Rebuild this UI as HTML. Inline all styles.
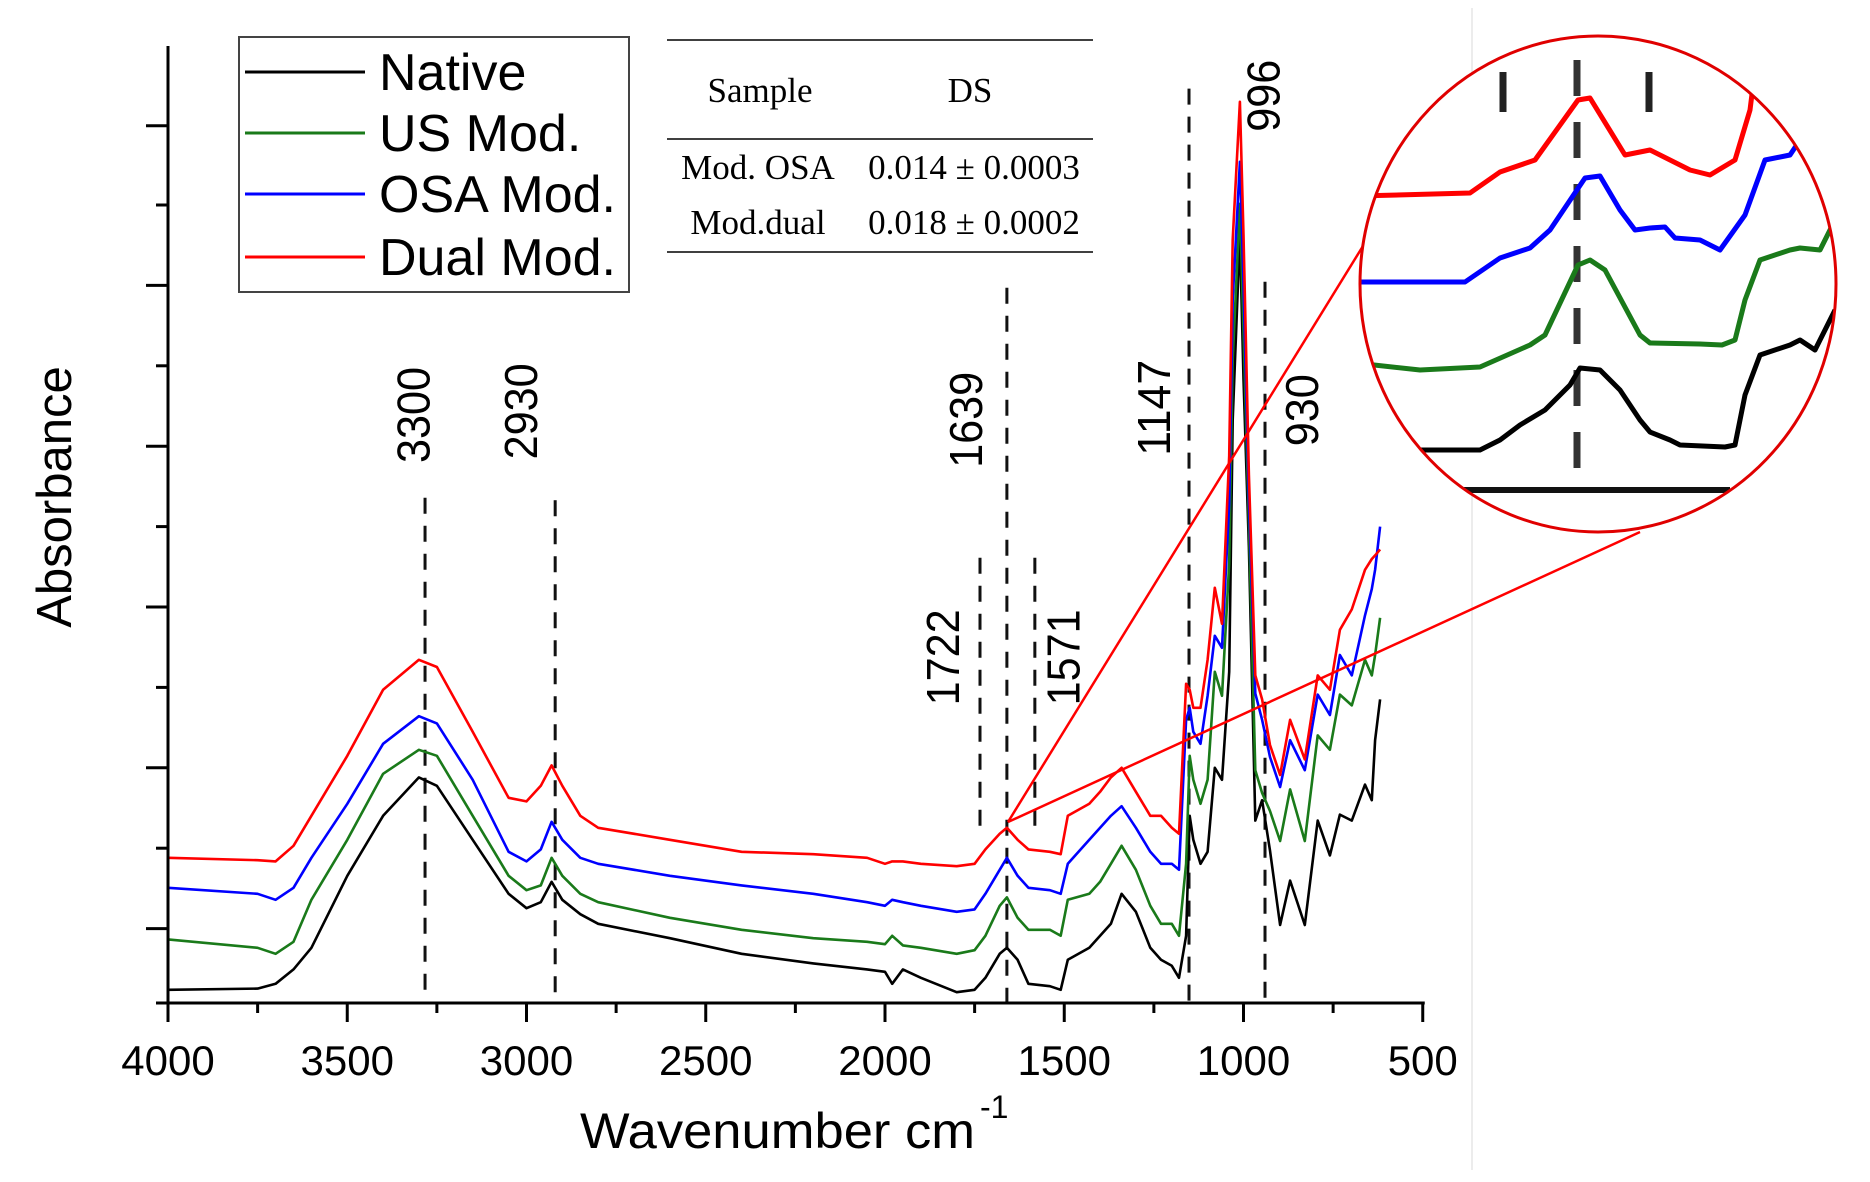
<!DOCTYPE html>
<html><head><meta charset="utf-8"><style>
html,body{margin:0;padding:0;background:#fff;}
svg{display:block;font-family:"Liberation Sans",Arial,sans-serif;}
</style></head><body>
<svg id="chart" width="1870" height="1182" viewBox="0 0 1870 1182">
<rect x="0" y="0" width="1870" height="1182" fill="#fff"/>
<line x1="1472" y1="8" x2="1472" y2="1170" stroke="#e6e6e6" stroke-width="1.5"/>
<g id="refLines"></g>
<g id="series"></g>
<g id="axes"></g>
<g id="labels"></g>
<g>
  <rect x="239" y="37" width="390" height="255" fill="#fff" stroke="#444" stroke-width="2"/>
  <line x1="245" y1="72" x2="365" y2="72" stroke="#000" stroke-width="3"/>
  <text x="379" y="90" font-size="52">Native</text>
  <line x1="245" y1="133" x2="365" y2="133" stroke="#1a7a1a" stroke-width="3"/>
  <text x="379" y="151" font-size="52">US Mod.</text>
  <line x1="245" y1="194" x2="365" y2="194" stroke="#0000ff" stroke-width="3"/>
  <text x="379" y="212" font-size="52">OSA Mod.</text>
  <line x1="245" y1="257" x2="365" y2="257" stroke="#ff0000" stroke-width="3"/>
  <text x="379" y="275" font-size="52">Dual Mod.</text>
</g>
<g font-family="'Liberation Serif','Times New Roman',serif" font-size="35">
  <line x1="667" y1="40" x2="1093" y2="40" stroke="#000" stroke-width="1.5"/>
  <line x1="667" y1="139" x2="1093" y2="139" stroke="#000" stroke-width="1.5"/>
  <line x1="667" y1="252" x2="1093" y2="252" stroke="#000" stroke-width="1.5"/>
  <text x="760" y="102" text-anchor="middle">Sample</text>
  <text x="970" y="102" text-anchor="middle">DS</text>
  <text x="758" y="179" text-anchor="middle">Mod. OSA</text>
  <text x="974" y="179" text-anchor="middle">0.014 ± 0.0003</text>
  <text x="758" y="234" text-anchor="middle">Mod.dual</text>
  <text x="974" y="234" text-anchor="middle">0.018 ± 0.0002</text>
</g>
<g id="inset"></g>
<text x="58" y="497" font-size="49" text-anchor="middle" transform="rotate(-90 58 497)" dominant-baseline="middle">Absorbance</text>
<text x="580" y="1148" font-size="50" textLength="395" lengthAdjust="spacingAndGlyphs">Wavenumber cm</text>
<text x="980" y="1118" font-size="32">-1</text>
</svg>
<script>
const NS='http://www.w3.org/2000/svg';
const wavenumbers=[4000,3750,3700,3650,3600,3500,3400,3300,3250,3150,3050,3000,2960,2930,2900,2850,2800,2600,2400,2200,2050,2000,1980,1950,1900,1800,1750,1720,1680,1660,1630,1600,1540,1510,1490,1430,1400,1370,1340,1300,1260,1230,1200,1180,1160,1150,1140,1120,1100,1080,1060,1040,1030,1010,1000,985,967,948,926,898,870,829,793,759,731,698,661,642,633,619];
const nativeVals=[11,12,16,28,46,106,156,188,181,136,91,79,84,101,86,74,66,54,41,33,28,26,16,28,21,9,11,21,41,46,36,16,14,11,36,46,56,66,91,76,46,36,31,21,56,156,136,116,126,196,186,276,486,641,520,380,152,169,127,65,102,65,152,123,157,152,182,169,219,253];
const usVals=[53,46,41,51,86,136,191,211,206,156,106,94,98,121,106,91,84,71,61,54,51,49,56,48,46,41,44,56,81,88,71,61,61,56,86,91,101,116,131,111,81,66,66,56,116,206,186,166,186,276,256,366,536,666,560,400,194,175,160,135,178,135,223,211,257,248,286,273,290,321];
const osaVals=[96,91,86,96,121,166,216,239,233,186,126,118,128,151,136,121,116,106,98,91,84,81,86,84,81,76,78,91,111,121,106,96,94,91,116,136,146,156,164,146,126,116,116,111,236,246,226,216,256,306,296,416,586,701,600,420,258,236,205,180,219,194,257,240,290,273,323,345,361,397];
const dualVals=[121,119,118,131,156,206,261,286,280,226,171,168,181,198,181,156,146,136,126,124,121,116,118,118,116,114,116,128,141,146,136,128,126,124,156,166,176,188,196,176,156,156,146,141,266,261,246,246,286,346,316,456,636,751,640,440,273,253,215,190,236,203,273,261,311,328,361,370,373,378];
const xTicks=[4000,3500,3000,2500,2000,1500,1000,500];
const xTickLabels=['4000','3500','3000','2500','2000','1500','1000','500'];
const xMinorTicks=[3750,3250,2750,2250,1750,1250,750];
const yMajorTicks=[62,196,330,464,598,731];
const yMinorTicks=[0,129,263,397,531,665];
const refLineW=[3283,2920,1735,1660,1582,1152,940];
const refLineTopV=[421,419,371,596,371,762,601];
const refLineBottomV=[0,0,146,0,146,0,0];
const peakLabels=['3300','2930','1722','1639','1571','1147','996','930'];
const peakLabelW=[3305,3004,1827,1763,1492,1239,934,826];
const peakLabelV=[490,493,288,486,288,496,756,494];

const X=w=>168+(4000-w)*0.3585;
const Y=v=>1003-1.2*v;

function mk(tag,attrs,parent){const e=document.createElementNS(NS,tag);for(const k in attrs)e.setAttribute(k,attrs[k]);parent.appendChild(e);return e;}

const rl=document.getElementById('refLines');
refLineW.forEach((w,i)=>{
  const l=mk('line',{x1:X(w),x2:X(w),y1:Y(refLineTopV[i]),y2:Y(refLineBottomV[i]),stroke:'#111','stroke-width':3,'stroke-dasharray':'16 12'},rl);
  
  
});
const sg=document.getElementById('series');
const seriesList=[['native',nativeVals,'#000'],['us-mod',usVals,'#1a7a1a'],['osa-mod',osaVals,'#0000ff'],['dual-mod',dualVals,'#ff0000']];
seriesList.forEach(s=>{
  const d=s[1].map((v,i)=>(i?'L':'M')+X(wavenumbers[i]).toFixed(1)+','+Y(v).toFixed(1)).join(' ');
  const p=mk('path',{d:d,fill:'none',stroke:s[2],'stroke-width':2.6,'stroke-linejoin':'round'},sg);
  
  
});
const ax=document.getElementById('axes');
let a=mk('line',{x1:168,y1:46,x2:168,y2:1004,stroke:'#000','stroke-width':3},ax);


a=mk('line',{x1:158,y1:1003,x2:X(500)+2,y2:1003,stroke:'#000','stroke-width':3},ax);


xTicks.forEach((w,i)=>{
  const t=mk('line',{x1:X(w),x2:X(w),y1:1003,y2:1022,stroke:'#000','stroke-width':3},ax);
  
  
  const tx=mk('text',{x:X(w),y:1075,'font-size':42,'text-anchor':'middle'},ax);
  tx.textContent=xTickLabels[i];
  
  
});
xMinorTicks.forEach(w=>{
  const t=mk('line',{x1:X(w),x2:X(w),y1:1003,y2:1013,stroke:'#000','stroke-width':3},ax);
  
  
});
yMajorTicks.forEach(v=>{
  const t=mk('line',{x1:146,x2:168,y1:Y(v),y2:Y(v),stroke:'#000','stroke-width':3},ax);
  
  
});
yMinorTicks.forEach(v=>{
  const t=mk('line',{x1:156,x2:168,y1:Y(v),y2:Y(v),stroke:'#000','stroke-width':3},ax);
  
  
});
const lg=document.getElementById('labels');
peakLabels.forEach((s,i)=>{
  const x=X(peakLabelW[i]),y=Y(peakLabelV[i]);
  const len=s.length*24;
  const t=mk('text',{x:x,y:y,'font-size':46,'text-anchor':'middle','dominant-baseline':'middle',textLength:len,lengthAdjust:'spacingAndGlyphs',transform:'rotate(-90 '+x+' '+y+')'},lg);
  t.textContent=s;
  
  
});
const insetRed=[[1360,196],[1470,193],[1500,172],[1535,160],[1578,100],[1590,98],[1625,155],[1650,150],[1690,170],[1710,175],[1735,160],[1750,110],[1755,70]];
const insetBlue=[[1355,282],[1465,282],[1500,258],[1530,248],[1550,230],[1585,178],[1600,176],[1620,210],[1635,230],[1650,228],[1665,227],[1675,238],[1700,240],[1720,250],[1745,215],[1765,160],[1790,155],[1800,140]];
const insetGreen=[[1365,364],[1420,370],[1480,367],[1530,345],[1545,335],[1578,265],[1590,260],[1605,270],[1640,335],[1650,343],[1700,344],[1722,345],[1735,340],[1745,300],[1760,260],[1790,250],[1800,248],[1820,250],[1835,220]];
const insetBlack=[[1400,450],[1480,450],[1500,440],[1520,425],[1545,410],[1570,385],[1580,368],[1600,370],[1620,390],[1640,420],[1650,432],[1670,440],[1680,445],[1725,447],[1735,445],[1745,395],[1760,355],[1790,345],[1800,340],[1815,350],[1835,310]];
const ig=document.getElementById('inset');
let c=mk('line',{x1:1008,y1:822,x2:1363,y2:246,stroke:'#ff0000','stroke-width':2.5},ig);


c=mk('line',{x1:1008,y1:822,x2:1640,y2:532,stroke:'#ff0000','stroke-width':2.5},ig);


const defs=mk('defs',{},ig);
const cp=mk('clipPath',{id:'insetClip'},defs);
mk('ellipse',{cx:1598,cy:284,rx:237,ry:247},cp);
c=mk('ellipse',{cx:1598,cy:284,rx:238,ry:248,fill:'#fff'},ig);


const inner=mk('g',{'clip-path':'url(#insetClip)'},ig);
c=mk('line',{x1:1577,y1:60,x2:1577,y2:490,stroke:'#333','stroke-width':7,'stroke-dasharray':'36 26'},inner);


[1503,1649].forEach(x=>{
  const m=mk('line',{x1:x,y1:72,x2:x,y2:112,stroke:'#222','stroke-width':7},inner);
  
  
});
c=mk('line',{x1:1455,y1:490,x2:1730,y2:490,stroke:'#111','stroke-width':6},inner);


[['dual',insetRed,'#ff0000'],['osa',insetBlue,'#0000ff'],['us',insetGreen,'#1a7a1a'],['native',insetBlack,'#000']].forEach(s=>{
  const p=mk('polyline',{points:s[1].map(q=>q.join(',')).join(' '),fill:'none',stroke:s[2],'stroke-width':5,'stroke-linejoin':'round'},inner);
  
  
});
c=mk('ellipse',{cx:1598,cy:284,rx:238,ry:248,fill:'none',stroke:'#e00000','stroke-width':3},ig);


</script>
</body></html>
